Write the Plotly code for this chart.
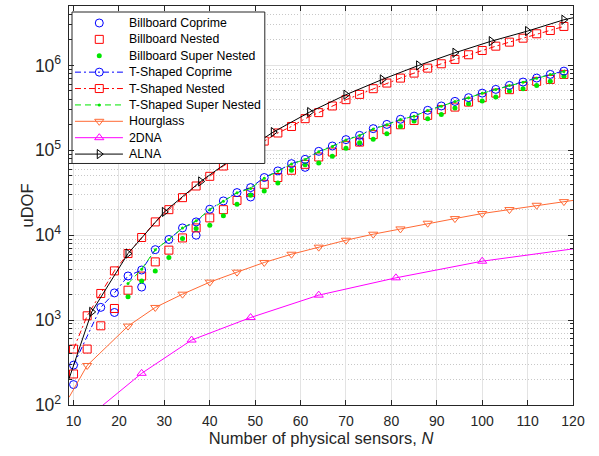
import plotly.graph_objects as go

# ---------------- data ----------------
N_bb_coprime = [10, 19, 25, 37, 49, 61, 73]
U_bb_coprime = [174, 1230, 2450, 10000, 28200, 63000, 126000]

N_bb_nested = [10, 13, 16, 19, 22, 25, 28, 31, 34, 37, 40, 43, 46, 49,
               52, 55, 58, 61, 64, 67, 70, 73, 76, 79, 82, 85, 88, 91, 94, 97,
               100, 103, 106, 109, 112, 115, 118]
U_bb_nested = [232, 456, 857, 1371, 2250, 3300, 4850, 6670, 9290, 12190, 16000, 20000, 25700, 32000,
               39800, 47800, 58200, 68400, 83400, 95500, 114500, 125000, 153000, 175000, 200000,
               225000, 258000, 301000, 323000, 370000, 417000, 472000, 518000, 566000, 649000,
               684000, 784000]

N_bb_super = [22, 25, 28, 31, 34, 37, 40, 43, 46, 49,
              52, 55, 58, 61, 64, 67, 70, 73, 76, 79, 82, 85, 88, 91, 94, 97,
              100, 103, 106, 109, 112, 115, 118]
U_bb_super = [1880, 2880, 3800, 5470, 9140, 12000, 13100, 16900, 23200, 29500,
              33200, 41200, 58200, 67600, 71000, 85000, 106000, 123000, 134600, 157000,
              191000, 221000, 236000, 265000, 315000, 354000, 380000, 424000, 499000,
              532000, 582000, 649000, 748000]

N_t_coprime = [10, 16, 19, 22, 25, 28, 31, 34, 37, 40, 43, 46,
               49, 52, 55, 58, 61, 64, 67, 70, 73, 76, 79, 82, 85, 88, 91, 94, 97,
               100, 103, 106, 109, 112, 115, 118]
U_t_coprime = [295, 1413, 2090, 3310, 3890, 6760, 8910, 12190, 14350, 20230, 25350, 31770,
               36400, 47800, 57200, 69700, 78300, 97300, 112400, 133700, 150000, 180000,
               202000, 232000, 253000, 296000, 333000, 377000, 417000, 472000, 522000,
               582000, 637000, 710000, 784000, 857000]

N_t_nested = [10, 13, 16, 19, 22, 25, 28, 31, 34, 37, 40, 43, 46, 49,
              52, 55, 58, 61, 64, 67, 70, 73, 76, 79, 82, 85, 88, 91, 94, 97,
              100, 103, 106, 109, 112, 115, 118]
U_t_nested = [456, 1124, 2060, 3800, 6080, 9400, 14350, 20000, 27700, 38000, 49400, 65300,
              83000, 103000, 128500, 160000, 191000, 236000, 278000, 333000, 395000, 456000,
              532000, 620000, 709000, 812000, 929000, 1046000, 1177000, 1336000, 1500000,
              1686000, 1880000, 2094000, 2360000, 2580000, 2880000]

N_t_super = [22, 25, 28, 31, 34, 37, 40, 43, 46, 49,
             52, 55, 58, 61, 64, 67, 70, 73, 76, 79, 82, 85, 88, 91, 94, 97,
             100, 103, 106, 109, 112, 115, 118]
U_t_super = [2690, 3980, 6760, 8910, 12190, 14800, 19950, 25100, 31600, 35500,
             47000, 56500, 69000, 78000, 96000, 111000, 132000, 149000, 178000, 200000,
             230000, 252000, 294000, 331000, 375000, 415000, 470000, 520000, 580000,
             635000, 705000, 780000, 850000]

# Hourglass: curve points, marker points
N_hg_line = [9, 13, 22, 28, 34, 40, 46, 52, 58, 64, 70, 76, 82, 88, 94, 100, 106, 112, 118, 120]
U_hg_line = [123, 292, 850, 1410, 2020, 2800, 3670, 4775, 5970, 7230, 8730, 10280, 11860,
             13840, 15700, 18000, 20050, 22530, 24880, 25700]
N_hg_mark = [13, 22, 28, 34, 40, 46, 52, 58, 64, 70, 76, 82, 88, 94, 100, 106, 112, 118]
U_hg_mark = [292, 850, 1410, 2020, 2800, 3670, 4775, 5970, 7230, 8730, 10280, 11860,
             13840, 15700, 18000, 20050, 22530, 24880]

# 2DNA
N_2dna_line = [16, 25, 36, 49, 64, 81, 100, 120]
U_2dna_line = [95, 236, 582, 1072, 1968, 3148, 4943, 6900]
N_2dna_mark = [25, 36, 49, 64, 81, 100]
U_2dna_mark = [236, 582, 1072, 1968, 3148, 4943]

# ALNA
N_alna_line = [9, 14, 22, 30, 38, 46, 54, 62, 70, 78, 86, 94, 102, 110, 118, 120]
U_alna_line = [203, 1250, 6080, 18800, 43000, 87000, 164000, 282000, 452000, 684000,
               1000000, 1410000, 1930000, 2540000, 3450000, 3640000]
N_alna_mark = [14, 22, 30, 38, 46, 54, 62, 70, 78, 86, 94, 102, 110, 118]
U_alna_mark = [1250, 6080, 18800, 43000, 87000, 164000, 282000, 452000, 684000,
               1000000, 1410000, 1930000, 2540000, 3450000]

x_ticks = [10, 20, 30, 40, 50, 60, 70, 80, 90, 100, 110, 120]

series_names = ["Billboard Coprime", "Billboard Nested", "Billboard Super Nested",
                "T-Shaped Coprime", "T-Shaped Nested", "T-Shaped Super Nested",
                "Hourglass", "2DNA", "ALNA"]

# ---------------- styles ----------------
BLUE = "#0000ff"
RED = "#ff0000"
GREEN = "#00e600"
ORANGE = "#ff6a35"
MAGENTA = "#ff00ff"
BLACK = "#000000"
DASHDOT = "6px,3px,2px,3px"
DASH = "6px,4px"
FONT = "Liberation Sans, Arial, sans-serif"
AX = "#262626"


def mk(symbol, size, color):
    if symbol.endswith("-open"):
        return dict(symbol=symbol, size=size, color=color, line=dict(width=1, color=color))
    return dict(symbol=symbol, size=size, color=color, line=dict(width=0))


# style per series: (line style or None, marker style)
styles = [
    (None, mk("circle-open", 8, BLUE)),
    (None, mk("square-open", 8, RED)),
    (None, mk("circle", 5, GREEN)),
    (dict(color=BLUE, width=1, dash=DASHDOT), mk("circle-open", 8, BLUE)),
    (dict(color=RED, width=1, dash=DASHDOT), mk("square-open", 8, RED)),
    (dict(color=GREEN, width=1, dash=DASH), mk("circle", 3, GREEN)),
    (dict(color=ORANGE, width=1), mk("triangle-down-open", 8, ORANGE)),
    (dict(color=MAGENTA, width=1), mk("triangle-up-open", 8, MAGENTA)),
    (dict(color=BLACK, width=1), mk("triangle-right-open", 8, BLACK)),
]

fig = go.Figure()

# marker-only series
for (xs, ys), (ln, m) in zip([(N_bb_coprime, U_bb_coprime), (N_bb_nested, U_bb_nested),
                              (N_bb_super, U_bb_super)], styles[0:3]):
    fig.add_trace(go.Scatter(x=xs, y=ys, mode="markers", marker=m, showlegend=False))

# lines with markers at every point
for (xs, ys), (ln, m) in zip([(N_t_coprime, U_t_coprime), (N_t_nested, U_t_nested),
                              (N_t_super, U_t_super)], styles[3:6]):
    fig.add_trace(go.Scatter(x=xs, y=ys, mode="lines+markers", line=ln, marker=m, showlegend=False))

# lines with markers at a subset
for (xl, yl, xm, ym), (ln, m) in zip([(N_hg_line, U_hg_line, N_hg_mark, U_hg_mark),
                                      (N_2dna_line, U_2dna_line, N_2dna_mark, U_2dna_mark),
                                      (N_alna_line, U_alna_line, N_alna_mark, U_alna_mark)],
                                     styles[6:9]):
    fig.add_trace(go.Scatter(x=xl, y=yl, mode="lines", line=ln, showlegend=False))
    fig.add_trace(go.Scatter(x=xm, y=ym, mode="markers", marker=m, showlegend=False))

# ---------------- legend (drawn on a pixel overlay axis) ----------------
PW, PH = 504.5, 399.3         # plot area size in px
BOX = (3, 196, 6, 157.6)      # left, right, top, bottom (px, relative to plot area)
ROW0, ROWSTEP = 17.0, 16.4
LINE_X0, LINE_X1, MARK_X, TEXT_X = 6, 54, 30.3, 57.7

fig.add_trace(go.Scatter(x=[BOX[0], BOX[1], BOX[1], BOX[0], BOX[0]],
                         y=[BOX[2], BOX[2], BOX[3], BOX[3], BOX[2]],
                         xaxis="x2", yaxis="y2", mode="lines", fill="toself",
                         fillcolor="white", line=dict(color=AX, width=1),
                         hoverinfo="skip", showlegend=False))
for i, (name, (ln, m)) in enumerate(zip(series_names, styles)):
    yc = ROW0 + i * ROWSTEP
    if ln is not None:
        fig.add_trace(go.Scatter(x=[LINE_X0, LINE_X1], y=[yc, yc], xaxis="x2", yaxis="y2",
                                 mode="lines", line=ln, hoverinfo="skip", showlegend=False))
    fig.add_trace(go.Scatter(x=[MARK_X], y=[yc], xaxis="x2", yaxis="y2", mode="markers",
                             marker=m, hoverinfo="skip", showlegend=False))
    fig.add_annotation(x=TEXT_X, y=yc, xref="x2", yref="y2", text=name, showarrow=False,
                       xanchor="left", yanchor="middle",
                       font=dict(family=FONT, size=12.3, color="#000000"))

# y-axis title as annotation
fig.add_annotation(x=(26 - 69) / PW, y=0.5, xref="paper", yref="paper", text="uDOF",
                   textangle=-90, showarrow=False, xanchor="center", yanchor="middle",
                   font=dict(family=FONT, size=16.5, color=AX))

fig.update_layout(
    width=599, height=456,
    margin=dict(l=69, r=26, t=6, b=51),
    paper_bgcolor="white", plot_bgcolor="white",
    font=dict(family=FONT, size=14, color=AX),
    showlegend=False,
    xaxis=dict(range=[9, 120], tickvals=x_ticks, ticktext=[str(v) for v in x_ticks],
               ticks="inside", ticklen=5, tickcolor=AX, mirror="ticks",
               showline=True, linecolor=AX, linewidth=1, ticklabelstandoff=3,
               showgrid=True, gridcolor="#e3e3e3", gridwidth=1, zeroline=False,
               title=dict(text="Number of physical sensors, <i>N</i>", font=dict(size=16.5), standoff=4),
               tickfont=dict(size=14)),
    yaxis=dict(type="log", range=[2, 6.7], dtick=1, exponentformat="power",
               ticks="inside", ticklen=5, tickcolor=AX, mirror="ticks",
               showline=True, linecolor=AX, linewidth=1, ticklabelstandoff=4,
               showgrid=True, gridcolor="#e3e3e3", gridwidth=1, zeroline=False,
               minor=dict(dtick="D1", ticks="inside", ticklen=3, tickcolor=AX,
                          showgrid=True, gridcolor="#c8c8c8", griddash="1px,2px", gridwidth=1),
               tickfont=dict(size=14)),
    xaxis2=dict(range=[0, PW], overlaying="x", anchor="y2", visible=False,
                showgrid=False, zeroline=False, fixedrange=True),
    yaxis2=dict(range=[PH, 0], overlaying="y", anchor="x2", visible=False,
                showgrid=False, zeroline=False, fixedrange=True),
)

fig.write_html("out.html")
